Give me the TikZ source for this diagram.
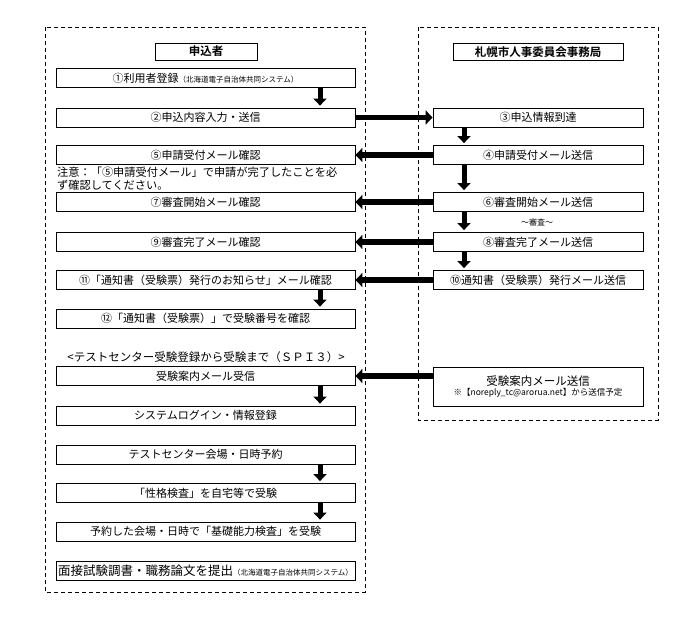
\documentclass[tikz,border=0pt]{standalone}
\usepackage{fontspec}
\setmainfont{Noto Sans CJK JP}[BoldFont={Noto Sans CJK JP Bold}]
\usetikzlibrary{arrows.meta,calc}
\newcommand{\smalltxt}[1]{{\fontsize{7.5}{8}\selectfont #1}}
\tikzset{
  frame/.style={draw,line width=0.8pt,dash pattern=on 4pt off 3pt},
  head/.style={rectangle,draw,line width=0.8pt,minimum height=17pt,
    inner sep=0pt,font=\fontsize{11.5}{13}\selectfont\bfseries},
  lbox/.style={rectangle,draw,line width=0.8pt,minimum width=299pt,
    minimum height=19pt,inner sep=0pt,font=\fontsize{11}{13}\selectfont},
  rbox/.style={lbox,minimum width=210pt},
  note/.style={align=left,inner sep=0pt,font=\fontsize{11.2}{13}\selectfont},
  % thick block arrows between the steps
  arr/.style={-{Triangle[length=7pt,width=14pt]},line width=5.5pt},
  darr/.style={-{Triangle[length=7pt,width=13pt]},line width=5pt,shorten >=2pt}
}
\begin{document}
\begin{tikzpicture}[x=1pt,y=-1pt]
  \useasboundingbox (0,0) rectangle (700,617);
  \draw[frame] (45,27) rectangle (365,592);
  \draw[frame] (418,27) rectangle (658,420);
  \node[head,minimum width=102pt] (app) at (206,51.5) {申込者};
  \node[head,minimum width=170pt] (office) at (538,52) {札幌市人事委員会事務局};
  % applicant side
  \node[lbox] (a1) at (205.5,78) {①利用者登録\smalltxt{（北海道電子自治体共同システム）}};
  \node[lbox] (a2) at (205.5,117.5) {②申込内容入力・送信};
  \node[lbox] (a5) at (205.5,155) {⑤申請受付メール確認};
  \node[note,anchor=north west] (warn) at (57,166.5) {注意：「⑤申請受付メール」で申請が完了したことを必\\ず確認してください。};
  \node[lbox] (a7) at (205.5,202) {⑦審査開始メール確認};
  \node[lbox] (a9) at (205.5,242) {⑨審査完了メール確認};
  \node[lbox] (a11) at (205.5,280) {⑪「通知書（受験票）発行のお知らせ」メール確認};
  \node[lbox] (a12) at (205.5,318.5) {⑫「通知書（受験票）」で受験番号を確認};
  \node[note,font=\fontsize{11.5}{13}\selectfont] (spi) at (206,357) {<テストセンター受験登録から受験まで（ＳＰＩ３）>};
  \node[lbox] (t1) at (205.5,376) {受験案内メール受信};
  \node[lbox] (t2) at (205.5,415.5) {システムログイン・情報登録};
  \node[lbox] (t3) at (205.5,454.5) {テストセンター会場・日時予約};
  \node[lbox] (t4) at (205.5,493) {「性格検査」を自宅等で受験};
  \node[lbox] (t5) at (205.5,531.5) {予約した会場・日時で「基礎能力検査」を受験};
  \node[lbox] (t6) at (205.5,570.5) {{\fontsize{12.5}{14}\selectfont 面接試験調書・職務論文を提出}\smalltxt{（北海道電子自治体共同システム）}};
  % office side
  \node[rbox] (b3) at (538,117.5) {③申込情報到達};
  \node[rbox] (b4) at (538,155) {④申請受付メール送信};
  \node[rbox] (b6) at (538,202) {⑥審査開始メール送信};
  \node[font=\fontsize{8}{9}\selectfont] (exam) at (537,222) {～審査～};
  \node[rbox] (b8) at (538,242) {⑧審査完了メール送信};
  \node[rbox] (b10) at (538,280) {⑩通知書（受験票）発行メール送信};
  \node[rbox,minimum height=39pt,align=center] (rt) at (538,386.5)
    {{\fontsize{11.5}{13}\selectfont 受験案内メール送信}\\[-3pt]{\fontsize{8.5}{9}\selectfont ※【noreply\_tc@arorua.net】から送信予定}};
  % arrows
  \coordinate (lx) at (320,0);
  \coordinate (rx) at (464,0);
  \draw[darr] (a1.south -| lx) -- (a2.north -| lx);
  \draw[darr] (a11.south -| lx) -- (a12.north -| lx);
  \draw[darr] (t1.south -| lx) -- (t2.north -| lx);
  \draw[darr] (t3.south -| lx) -- (t4.north -| lx);
  \draw[darr] (t4.south -| lx) -- (t5.north -| lx);
  \draw[darr] (b3.south -| rx) -- (b4.north -| rx);
  \draw[darr] (b4.south -| rx) -- (b6.north -| rx);
  \draw[darr] (b6.south -| rx) -- (b8.north -| rx);
  \draw[darr] (b8.south -| rx) -- (b10.north -| rx);
  \draw[arr] (a2.east) -- (b3.west);
  \draw[arr] (b4.west) -- (a5.east);
  \draw[arr] (b6.west) -- (a7.east);
  \draw[arr] (b8.west) -- (a9.east);
  \draw[arr] (b10.west) -- (a11.east);
  \draw[arr] (rt.west |- t1.east) -- (t1.east);
\end{tikzpicture}
\end{document}
